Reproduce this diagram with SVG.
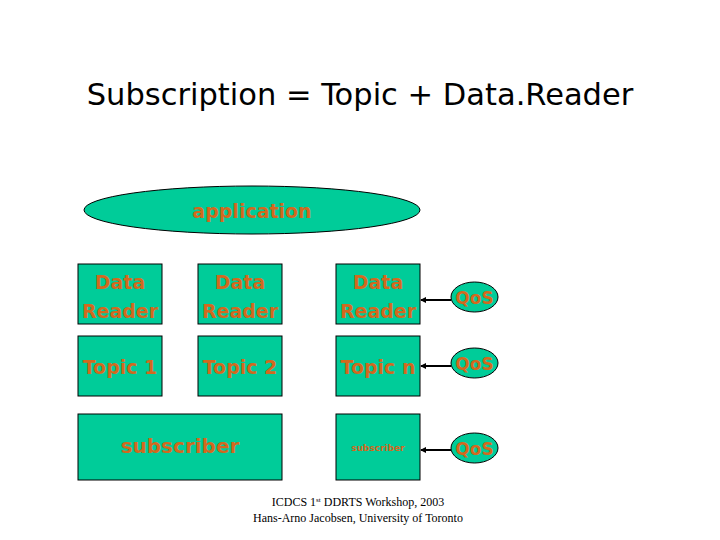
<svg xmlns="http://www.w3.org/2000/svg" width="720" height="540" viewBox="0 0 720 540">
<style>
.n{fill:#00CC99;stroke:#000;stroke-width:1}
.t{font-family:"DejaVu Sans",sans-serif;fill:#D2691E;text-anchor:middle;font-weight:bold}
.f{font-family:"Liberation Serif",serif;font-size:12px;fill:#000;text-anchor:middle}
.c{stroke:#000;stroke-width:2;fill:none;marker-end:url(#a)}
</style>
<defs>
<marker id="a" markerWidth="6" markerHeight="6" refX="5" refY="3" orient="auto" markerUnits="userSpaceOnUse">
<path d="M0,0 L6,3 L0,6 z" fill="#000"/>
</marker>
</defs>
<rect width="720" height="540" fill="#fff"/>
<text x="360" y="105" font-family="DejaVu Sans,sans-serif" font-size="30.5" text-anchor="middle" fill="#000">Subscription = Topic + Data.Reader</text>
<g id="application"><ellipse class="n" cx="252" cy="210" rx="168" ry="24"/><text class="t" x="252" y="218" font-size="19">application</text></g>
<g id="dr1"><rect class="n" x="78" y="264" width="84" height="60"/><text class="t" x="120" y="289" font-size="19">Data</text><text class="t" x="120" y="318" font-size="19">Reader</text></g>
<g id="dr2"><rect class="n" x="198" y="264" width="84" height="60"/><text class="t" x="240" y="289" font-size="19">Data</text><text class="t" x="240" y="318" font-size="19">Reader</text></g>
<g id="dr3"><rect class="n" x="336" y="264" width="84" height="60"/><text class="t" x="378" y="289" font-size="19">Data</text><text class="t" x="378" y="318" font-size="19">Reader</text></g>
<g id="topic1"><rect class="n" x="78" y="336" width="84" height="60"/><text class="t" x="120" y="374" font-size="19">Topic 1</text></g>
<g id="topic2"><rect class="n" x="198" y="336" width="84" height="60"/><text class="t" x="240" y="374" font-size="19">Topic 2</text></g>
<g id="topicn"><rect class="n" x="336" y="336" width="84" height="60"/><text class="t" x="378" y="374" font-size="19">Topic n</text></g>
<g id="subscriber1"><rect class="n" x="78" y="414" width="204" height="66"/><text class="t" x="180" y="453" font-size="20">subscriber</text></g>
<g id="subscriber2"><rect class="n" x="336" y="414" width="84" height="66"/><text class="t" x="378" y="451" font-size="9">subscriber</text></g>
<g id="qos1"><ellipse class="n" cx="474.5" cy="297" rx="23.5" ry="15"/><text class="t" x="474.5" y="303.5" font-size="17">QoS</text></g>
<g id="qos2"><ellipse class="n" cx="474.5" cy="363" rx="23.5" ry="15"/><text class="t" x="474.5" y="369.5" font-size="17">QoS</text></g>
<g id="qos3"><ellipse class="n" cx="474.5" cy="448" rx="23.5" ry="15"/><text class="t" x="474.5" y="454.5" font-size="17">QoS</text></g>
<g id="connectors">
<line class="c" x1="451" y1="300" x2="421" y2="300"/>
<line class="c" x1="451" y1="366" x2="421" y2="366"/>
<line class="c" x1="451" y1="450" x2="421" y2="450"/>
</g>
<text class="f" x="358" y="506">ICDCS 1<tspan font-size="7" dy="-4">st</tspan><tspan dy="4"> DDRTS Workshop, 2003</tspan></text>
<text class="f" x="358" y="522">Hans-Arno Jacobsen, University of Toronto</text>
</svg>
